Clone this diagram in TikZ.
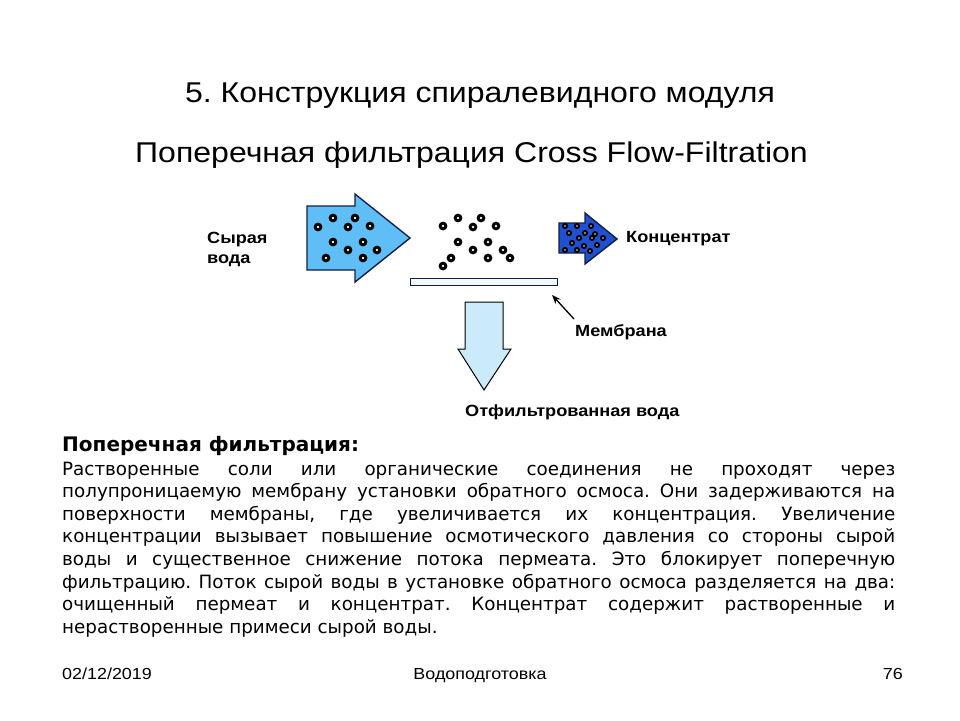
\documentclass[tikz,border=0pt]{standalone}
\usepackage{fontspec}
\setmainfont{Liberation Sans}
\newfontfamily\arialx{Liberation Sans}[FakeStretch=1.12]
\newfontfamily\verd{DejaVu Sans}
\usetikzlibrary{arrows.meta}
\frenchspacing
\definecolor{bigfill}{RGB}{95,190,245}
\definecolor{navy}{RGB}{20,30,70}
\definecolor{smallfill}{RGB}{30,80,210}
\definecolor{downfill}{RGB}{204,235,250}
\definecolor{dotc}{RGB}{255,250,200}
\definecolor{membfill}{RGB}{240,250,250}
\tikzset{
  titletext/.style={inner sep=0pt, font=\arialx\fontsize{28.6}{34}\selectfont},
  lbl/.style={inner sep=0pt, font=\arialx\bfseries\fontsize{16.2}{20}\selectfont},
  foot/.style={inner sep=0pt, font=\arialx\fontsize{16}{20}\selectfont},
  bodyline/.style={inner sep=0pt, anchor=base west, font=\verd\fontsize{18.3}{22}\selectfont},
  flowarrow/.style={draw=navy, line width=1.4pt, line join=miter},
  pointer/.style={-{Stealth[length=9pt,width=7pt]}, line width=1.3pt, black},
}
\newcommand\pdot[2]{\fill[black] (#1) circle[radius=#2]; \fill[dotc] (#1) circle[radius=0.3*#2];}
\begin{document}
\begin{tikzpicture}[x=1pt,y=-1pt]
\useasboundingbox[fill=white] (0,0) rectangle (960,720);

% titles
\node[titletext, anchor=base] (title) at (480,102) {5. Конструкция спиралевидного модуля};
\node[titletext, anchor=base west] (subtitle) at (135,162) {Поперечная фильтрация Cross Flow-Filtration};

% raw water arrow
\draw[flowarrow, fill=bigfill] (307,206) -- (355,206) -- (355,194) -- (410,238) -- (355,282) -- (355,270) -- (307,270) -- cycle;
\foreach \p in {{318,227},{333,218},{355,218},{348,227},{370,226},{333,242},{363,242},{348,250},{377,250},{326,258},{363,258}}
  {\pdot{\p}{4.4}}

% particles above membrane
\foreach \p in {{443,226},{458,218},{481,218},{473,227},{496,226},{458,242},{488,242},{473,250},{503,250},{451,258},{488,258},{510,258},{443,266}}
  {\pdot{\p}{4.4}}

% membrane
\node[draw=navy, line width=1pt, fill=membfill, minimum width=147pt, minimum height=7pt, inner sep=0pt, anchor=north west] (membrane) at (410,278) {};

% concentrate arrow
\draw[flowarrow, fill=smallfill] (559,223) -- (585,223) -- (585,213) -- (617,239) -- (585,264) -- (585,253) -- (559,253) -- cycle;
\foreach \p in {{565,226},{577,226},{591,226},{569,233},{585,233},{595,234},{579,238},{592,238},{603,238},{572,243},{584,246},{597,245},{565,250},{577,250},{590,251}}
  {\pdot{\p}{3.1}}

% permeate arrow
\draw[draw=black, line width=1pt, fill=downfill, line join=miter] (465,302) -- (503,302) -- (503,349) -- (511,349) -- (484,390) -- (458,349) -- (465,349) -- cycle;

% labels
\node[lbl, anchor=base west] (raw) at (207,243) {\vtop{\baselineskip=20.6pt\hbox{Сырая}\hbox{вода}}};
\node[lbl, anchor=base west] (conc) at (626,242) {Концентрат};
\node[lbl, anchor=base west] (memlbl) at (575,336) {Мембрана};
\node[lbl, anchor=base west] (filt) at (465,416) {Отфильтрованная вода};

\coordinate (ptail) at (574,319);
\draw[pointer] (ptail) -- (552,295);

% body text
\node[inner sep=0pt, anchor=base west, font=\verd\bfseries\fontsize{20}{24}\selectfont] (head) at (62,451) {Поперечная фильтрация:};
\node[bodyline] (l1) at (62,475.0) {\makebox[833pt][s]{Растворенные соли или органические соединения не проходят через}};
\node[bodyline] (l2) at (62,497.6) {\makebox[833pt][s]{полупроницаемую мембрану установки обратного осмоса. Они задерживаются на}};
\node[bodyline] (l3) at (62,520.2) {\makebox[833pt][s]{поверхности мембраны, где увеличивается их концентрация. Увеличение}};
\node[bodyline] (l4) at (62,542.8) {\makebox[833pt][s]{концентрации вызывает повышение осмотического давления со стороны сырой}};
\node[bodyline] (l5) at (62,565.4) {\makebox[833pt][s]{воды и существенное снижение потока пермеата. Это блокирует поперечную}};
\node[bodyline] (l6) at (62,588.0) {\makebox[833pt][s]{фильтрацию. Поток сырой воды в установке обратного осмоса разделяется на два:}};
\node[bodyline] (l7) at (62,610.6) {\makebox[833pt][s]{очищенный пермеат и концентрат. Концентрат содержит растворенные и}};
\node[bodyline] (l8) at (62,633.2) {нерастворенные примеси сырой воды.};

% footer
\node[foot, anchor=base west] (date) at (62,679) {02/12/2019};
\node[foot, anchor=base] (topic) at (480,679) {Водоподготовка};
\node[foot, anchor=base east] (page) at (903,679) {76};
\end{tikzpicture}
\end{document}
